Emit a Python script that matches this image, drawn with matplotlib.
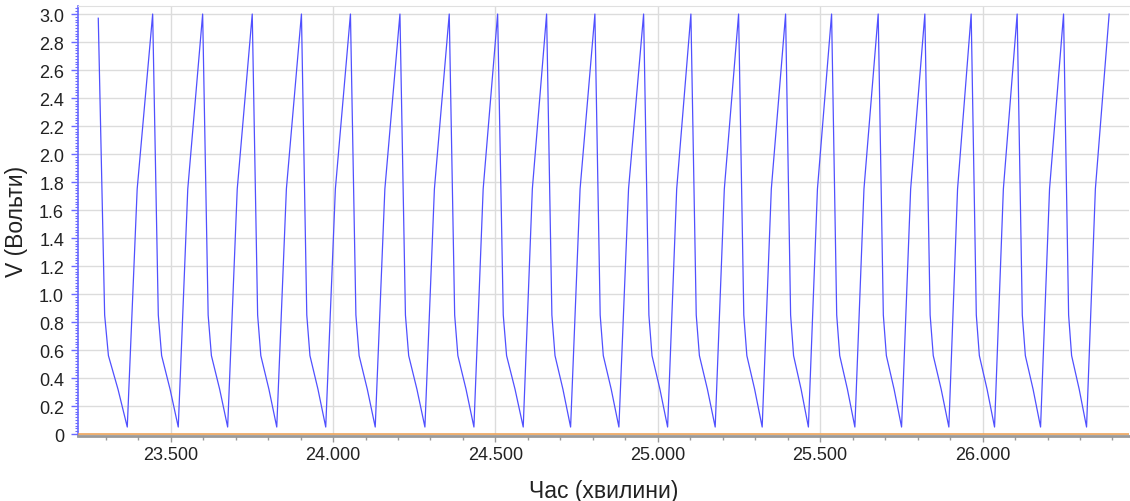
import numpy as np
import matplotlib.pyplot as plt
from matplotlib.ticker import MultipleLocator, FuncFormatter

plt.rcParams['font.family'] = ['Liberation Sans', 'DejaVu Sans']

# дані (час у хвилинах, напруга у вольтах)
start_time = 23.2771
start_volts = 2.97
peak_times = [23.4446, 23.5985, 23.7512, 23.9027, 24.0536, 24.2060, 24.3578,
              24.5068, 24.6576, 24.8063, 24.9563, 25.1019, 25.2488, 25.3935,
              25.5351, 25.6786, 25.8223, 25.9649, 26.1065, 26.2494, 26.3898]
trough_times = [23.3664, 23.5234, 23.6755, 23.8267, 23.9775, 24.1299, 24.2829,
                24.4338, 24.5856, 24.7315, 24.8802, 25.0302, 25.1767, 25.3214,
                25.4637, 25.6068, 25.7506, 25.8962, 26.0369, 26.1786, 26.3202]
# форма наростання / спаду в межах одного циклу
rise_frac = [0.0, 0.39, 1.0]
rise_volts = [0.05, 1.75, 3.0]
fall_frac = [0.0, 0.22, 0.35, 0.68, 1.0]
fall_volts = [3.0, 0.85, 0.56, 0.32, 0.05]
zero_level = 0.0

t = []
v = []
# перший неповний спад
for k, (f, vv) in enumerate(zip(fall_frac, fall_volts)):
    t.append(start_time + f * (trough_times[0] - start_time))
    v.append(start_volts if k == 0 else vv)
for i in range(len(peak_times)):
    tr, pk = trough_times[i], peak_times[i]
    for f, vv in zip(rise_frac[1:], rise_volts[1:]):
        t.append(tr + f * (pk - tr))
        v.append(vv)
    if i + 1 < len(trough_times):
        nxt = trough_times[i + 1]
        for f, vv in zip(fall_frac[1:], fall_volts[1:]):
            t.append(pk + f * (nxt - pk))
            v.append(vv)

fig = plt.figure(figsize=(11.3, 5.02), dpi=100)
ax = fig.add_axes([0.069, 0.1295, 0.930, 0.857])

ax.plot(t, v, color='#5050ff', lw=0.9, zorder=3)
ax.axhline(zero_level, color='#f0a050', lw=1.1, zorder=4)

ax.set_xlim(23.2146, 26.4505)
ax.set_ylim(-0.014, 3.059)

ax.xaxis.set_major_locator(MultipleLocator(0.5))
ax.xaxis.set_minor_locator(MultipleLocator(0.1))
ax.yaxis.set_major_locator(MultipleLocator(0.2))
ax.yaxis.set_minor_locator(MultipleLocator(0.02))
ax.xaxis.set_major_formatter(FuncFormatter(lambda x, p: f'{x:.3f}'))
ax.yaxis.set_major_formatter(FuncFormatter(lambda y, p: '0' if abs(y) < 1e-9 else f'{y:.1f}'))

ax.grid(True, which='major', color='#dcdcdc', lw=1.0, zorder=0)
ax.set_axisbelow(True)

ax.spines['right'].set_visible(False)
ax.spines['top'].set_color('#e0e0e0')
ax.spines['left'].set_color('#6a6aff')
ax.spines['left'].set_linewidth(1.2)
ax.spines['bottom'].set_color('#9a9a9a')
ax.spines['bottom'].set_linewidth(2.0)

ax.tick_params(axis='y', which='major', colors='#6a6aff', length=5, width=1,
               labelcolor='#222222', labelsize=13, pad=5)
ax.tick_params(axis='y', which='minor', colors='#6a6aff', length=2, width=0.8)
ax.tick_params(axis='x', which='major', colors='#9a9a9a', length=4, width=1,
               labelcolor='#222222', labelsize=13, pad=3)
ax.tick_params(axis='x', which='minor', colors='#9a9a9a', length=3, width=1)

ax.set_xlabel('Час (хвилини)', fontsize=16.5, color='#222222', labelpad=12)
ax.set_ylabel('V (Вольти)', fontsize=16.5, color='#222222', labelpad=8)

fig.savefig('out.png', dpi=100)
